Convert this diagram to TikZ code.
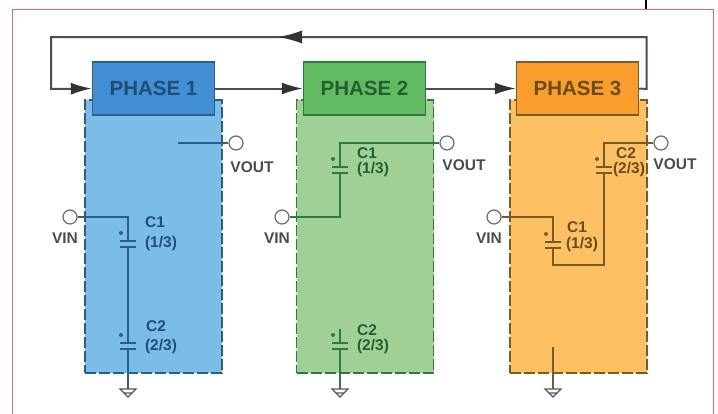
\documentclass[tikz,border=0pt]{standalone}
\usepackage{fontspec}
\setmainfont{Liberation Sans}
\usetikzlibrary{arrows.meta,shapes.geometric}
\definecolor{frameRed}{HTML}{EE6A5E}
\definecolor{panelA}{HTML}{7BBDE6}\definecolor{boxA}{HTML}{438FD3}\definecolor{edgeA}{HTML}{2A5E8C}\definecolor{inkA}{HTML}{1F4F78}
\definecolor{panelB}{HTML}{9FD197}\definecolor{boxB}{HTML}{62BA63}\definecolor{edgeB}{HTML}{2F7A3C}\definecolor{inkB}{HTML}{245F30}
\definecolor{panelC}{HTML}{FDC163}\definecolor{boxC}{HTML}{F99E2C}\definecolor{edgeC}{HTML}{7A5A28}\definecolor{inkC}{HTML}{6A4B1E}
\definecolor{flowInk}{HTML}{4A4F55}
\tikzset{
  panel/.style={draw=#1,line width=1.3pt,dash pattern=on 11pt off 3pt,minimum width=137pt,minimum height=273pt,inner sep=0pt,rectangle},
  phasebox/.style={draw=#1,line width=1.4pt,minimum width=122pt,minimum height=53pt,inner sep=0pt,rectangle,font=\fontsize{20.5}{20.5}\selectfont\bfseries},
  flow/.style={draw=flowInk,line width=2pt},
  flowtip/.style={flow,-{Latex[length=21pt,width=12pt,black!80]}},
  terminal/.style={circle,draw=gray!85!black,fill=white,line width=1.2pt,minimum size=14pt,inner sep=0pt},
  wire/.style={line width=1.3pt},
  tag/.style={inner sep=0pt,font=\fontsize{15.5}{15.5}\selectfont\bfseries,text=#1},
  tag/.default=black!70,
}
% capacitor centred at (#1), gap filled with #2, plates and plus in #3
\newcommand{\capsym}[3]{%
  \begin{scope}[shift={(#1)}]
    \fill[#2] (-8,-3) rectangle (8,3);
    \draw[#3,line width=1.3pt] (-8,-3) -- (8,-3) (-8,3) -- (8,3);
    \fill[#3] (-7,-11) circle (2pt);
  \end{scope}}
% ground at (#1)
\newcommand{\gndsym}[1]{%
  \begin{scope}[shift={(#1)}]
    \draw[gray!70!black,line width=1.1pt] (-8,0) -- (8,0) -- (0,8) -- cycle (-4,4) -- (4,4);
  \end{scope}}
\begin{document}
\begin{tikzpicture}[x=1pt,y=-1pt]
\useasboundingbox (0,0) rectangle (718,413);
\fill[white] (0,0) rectangle (718,413);
\draw[frameRed,line width=1.3pt] (12.5,420) -- (12.5,9.5) -- (713.5,9.5) -- (713.5,420);
\draw[black,line width=1.5pt] (646,0) -- (646,9);

% panels
\node[panel=edgeA,fill=panelA] (p1) at (153.5,236.5) {};
\node[panel=edgeB,fill=panelB] (p2) at (365,236.5) {};
\node[panel=edgeC,fill=panelC] (p3) at (578.5,236.5) {};

% phase boxes
\node[phasebox=edgeA,fill=boxA,text=inkA] (b1) at (153.5,88.5) {PHASE 1};
\node[phasebox=edgeB,fill=boxB,text=inkB] (b2) at (364.5,88.5) {PHASE 2};
\node[phasebox=edgeC,fill=boxC,text=inkC] (b3) at (577.5,88.5) {PHASE 3};

% control flow
\coordinate (fbR) at (646.5,89);
\coordinate (fbTR) at (646.5,37);
\coordinate (fbA) at (303,37);
\coordinate (fbM) at (278,37);
\coordinate (fbTL) at (51,37);
\coordinate (fbL) at (51,89);
\draw[flowtip] (b1.east) -- (b2.west);
\draw[flowtip] (b2.east) -- (b3.west);
\draw[flowtip] (b3.east) -- (fbR) -- (fbTR) -- (fbTL) -- (fbL) -- (b1.west);
\draw[flow,-{Latex[length=24pt,width=13pt,black!80]}] (fbA) -- (fbM);

% terminals
\node[terminal] (in1) at (70,217) {};
\node[terminal] (out1) at (236,143) {};
\node[terminal] (in2) at (282,217) {};
\node[terminal] (out2) at (447,143) {};
\node[terminal] (in3) at (494,217) {};
\node[terminal] (out3) at (661,143) {};

% grounds
\coordinate (g1) at (128,389);
\coordinate (g2) at (340,389);
\coordinate (g3) at (553,389);

% phase 1 wiring
\coordinate (o1) at (178,143);
\coordinate (j1) at (128,217);
\draw[wire,edgeA] (o1) -- (out1);
\draw[wire,edgeA] (in1) -- (j1) -- (g1);
\capsym{128,244}{panelA}{edgeA}
\capsym{128,346}{panelA}{edgeA}
\gndsym{g1}

% phase 2 wiring
\coordinate (j2a) at (340,143);
\coordinate (j2b) at (340,217);
\coordinate (s2) at (340,329);
\draw[wire,edgeB] (out2) -- (j2a) -- (j2b) -- (in2);
\draw[wire,edgeB] (s2) -- (g2);
\capsym{340,170}{panelB}{edgeB}
\capsym{340,346}{panelB}{edgeB}
\gndsym{g2}

% phase 3 wiring
\coordinate (j3a) at (604,143);
\coordinate (j3b) at (604,265);
\coordinate (j3c) at (553,265);
\coordinate (j3d) at (553,217);
\coordinate (s3) at (553,347);
\draw[wire,edgeC] (out3) -- (j3a) -- (j3b) -- (j3c) -- (j3d) -- (in3);
\draw[wire,edgeC] (s3) -- (g3);
\capsym{604,170}{panelC}{edgeC}
\capsym{553,245}{panelC}{edgeC}
\gndsym{g3}

% labels
\node[tag] (vo1) at (252,167) {VOUT};
\node[tag] (vi1) at (65,238) {VIN};
\node[tag=inkA] (c11) at (155,222) {C1};
\node[tag=inkA] (c12) at (161,243) {(1/3)};
\node[tag=inkA] (c21) at (156,326) {C2};
\node[tag=inkA] (c22) at (161,346) {(2/3)};

\node[tag] (vo2) at (464,165) {VOUT};
\node[tag] (vi2) at (277,238) {VIN};
\node[tag=inkB] (c31) at (367,153) {C1};
\node[tag=inkB] (c32) at (373,169) {(1/3)};
\node[tag=inkB] (c41) at (367,330) {C2};
\node[tag=inkB] (c42) at (373,346) {(2/3)};

\node[tag] (vo3) at (675,164) {VOUT};
\node[tag] (vi3) at (489,238) {VIN};
\node[tag=inkC] (c51) at (626,153) {C2};
\node[tag=inkC] (c52) at (629,169) {(2/3)};
\node[tag=inkC] (c61) at (577,227) {C1};
\node[tag=inkC] (c62) at (582,244) {(1/3)};
\end{tikzpicture}
\end{document}
